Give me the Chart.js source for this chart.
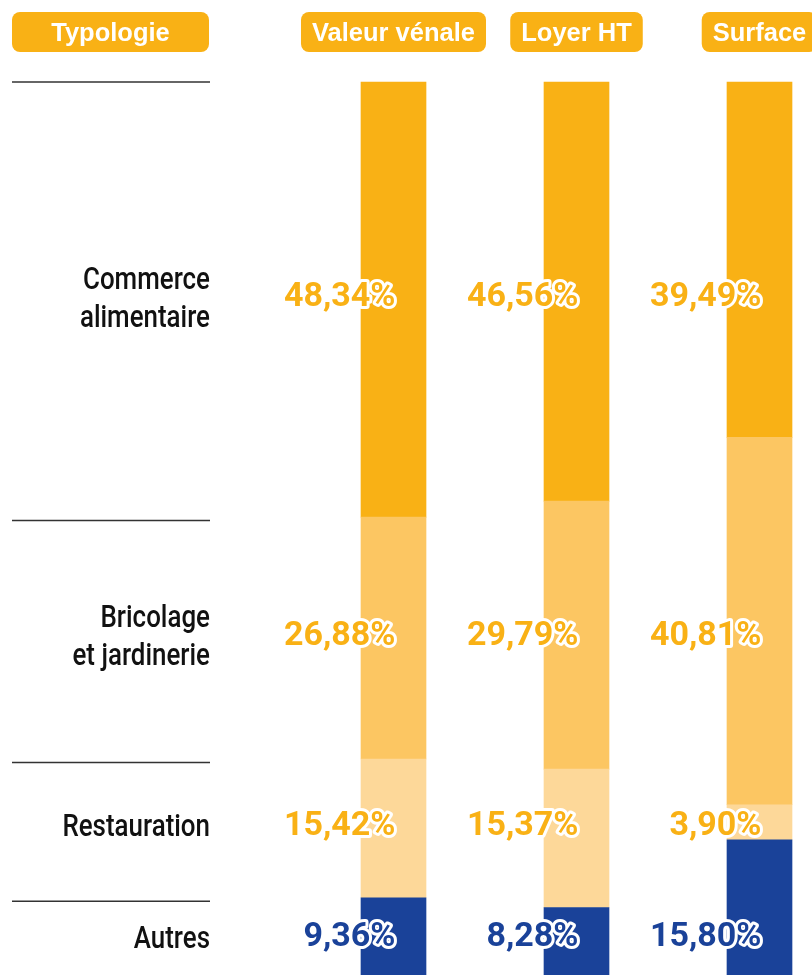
<!DOCTYPE html>
<html><head><meta charset="utf-8">
<script src="https://cdn.jsdelivr.net/npm/chart.js@4/dist/chart.umd.min.js"></script>
<style>html,body{margin:0;padding:0;background:#fff;overflow:hidden}#wrap{position:relative;width:812px;height:975px}</style>
</head><body><div id="wrap"><canvas id="c" width="812" height="975"></canvas></div>
<script>
// ---- data ----
const columns = ['Valeur vénale', 'Loyer HT', 'Surface'];
const headerLabel = 'Typologie';
const categoryNames = [['Commerce', 'alimentaire'], ['Bricolage', 'et jardinerie'], ['Restauration'], ['Autres']];
const commerce = [48.34, 46.56, 39.49];
const bricolage = [26.88, 29.79, 40.81];
const restauration = [15.42, 15.37, 3.90];
const autres = [9.36, 8.28, 15.80];

// ---- styles ----
const ORANGE = '#F9B115';
const NAVY = '#1A4299';
const segColors = ['#F9B115', '#FCC662', '#FDD899', '#1A4299'];
const labelColors = [ORANGE, ORANGE, ORANGE, NAVY];
const seriesTopDown = [commerce, bricolage, restauration, autres];

// datasets stacked bottom -> top
const datasets = seriesTopDown.map((vals, k) => ({
  label: categoryNames[k].join(' '),
  data: vals,
  backgroundColor: segColors[k],
  borderWidth: 0,
  barThickness: 65,
  clip: false,
  catIndex: k
})).reverse();

const fmt = v => v.toFixed(2).replace('.', ',') + '%';

function pill(ctx, x, y, w, h, r) {
  ctx.beginPath();
  if (ctx.roundRect) ctx.roundRect(x, y, w, h, r);
  else ctx.rect(x, y, w, h);
  ctx.fill();
}

const overlay = {
  id: 'overlay',
  afterDatasetsDraw(chart) {
    const ctx = chart.ctx;
    const xs = chart.scales.x;
    const area = chart.chartArea;
    ctx.save();
    // headers
    ctx.font = 'bold 25.5px "Liberation Sans", Arial, sans-serif';
    ctx.fillStyle = ORANGE;
    pill(ctx, 12, 12, 197, 40, 8);
    ctx.fillStyle = '#fff';
    ctx.textAlign = 'center';
    ctx.textBaseline = 'alphabetic';
    ctx.fillText(headerLabel, 110.5, 40.5);
    columns.forEach((c, i) => {
      const cx = xs.getPixelForValue(i);
      const w = ctx.measureText(c).width + 22;
      ctx.fillStyle = ORANGE;
      pill(ctx, cx - w / 2, 12, w, 40, 8);
      ctx.fillStyle = '#fff';
      ctx.fillText(c, cx, 40.5);
    });

    // left column
    chart.data.datasets.forEach((ds, di) => {
      const k = ds.catIndex;
      const el = chart.getDatasetMeta(di).data[0];
      const top = el.y, bottom = el.base;
      const mid = (top + bottom) / 2;
      const ly = k === 0 ? area.top : top + 3.5;
      ctx.strokeStyle = '#333';
      ctx.lineWidth = 1.5;
      ctx.beginPath();
      ctx.moveTo(12, ly);
      ctx.lineTo(210, ly);
      ctx.stroke();

      ctx.font = '500 32px Roboto, "Liberation Sans", sans-serif';
      ctx.fillStyle = '#111';
      ctx.textAlign = 'right';
      ctx.textBaseline = 'middle';
      const lines = categoryNames[k];
      const lh = 38;
      const sx = 0.81;
      lines.forEach((t, j) => {
        ctx.save();
        ctx.translate(210, mid + (j - (lines.length - 1) / 2) * lh);
        ctx.scale(sx, 1);
        ctx.fillText(t, 0, 0);
        ctx.restore();
      });

      // value labels in a row
      ctx.font = 'bold 34px Roboto, "Liberation Sans", sans-serif';
      ctx.lineJoin = 'round';
      ctx.lineWidth = 6;
      ctx.strokeStyle = '#fff';
      ctx.fillStyle = labelColors[k];
      ds.data.forEach((v, i) => {
        const b = chart.getDatasetMeta(di).data[i];
        const tx = b.x + 2;
        const ty = mid - 2;
        ctx.strokeText(fmt(v), tx, ty);
        ctx.fillText(fmt(v), tx, ty);
      });
    });
    ctx.restore();
  }
};

new Chart(document.getElementById('c'), {
  type: 'bar',
  data: { labels: columns, datasets },
  options: {
    responsive: false,
    animation: false,
    layout: { padding: { left: 393.5, right: 52.5, top: 82, bottom: 0 } },
    scales: {
      x: { stacked: true, offset: false, display: false },
      y: { stacked: true, display: false, min: 0.78, max: 100 }
    },
    plugins: { legend: { display: false }, tooltip: { enabled: false } }
  },
  plugins: [overlay]
});
</script>
</body></html>
